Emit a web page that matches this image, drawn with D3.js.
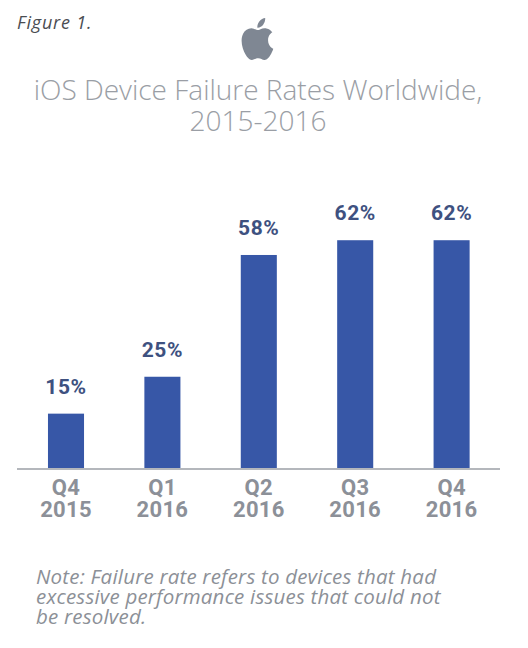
<!DOCTYPE html>
<html>
<head>
<meta charset="utf-8">
<script src="https://cdn.jsdelivr.net/npm/d3@7"></script>
<style>
html,body{margin:0;padding:0;background:#fff;}
svg{display:block;}
</style>
</head>
<body>
<svg id="chart" width="528" height="648"></svg>
<script>
const quarters = ["Q4", "Q1", "Q2", "Q3", "Q4"];
const years = ["2015", "2016", "2016", "2016", "2016"];
const failureRates = [15, 25, 58, 62, 62];
const titleLines = ["iOS Device Failure Rates Worldwide,", "2015-2016"];
const noteLines = ["Note: Failure rate refers to devices that had", "excessive performance issues that could not", "be resolved."];

const svg = d3.select("#chart");
const W = 528, H = 648;
svg.append("rect").attr("width", W).attr("height", H).attr("fill", "#fff");

const keys = failureRates.map((d, i) => i);
const x = d3.scaleBand().domain(keys).range([17.8, 499.8]).paddingInner(0.626).paddingOuter(0.313);
const y = d3.scaleLinear().domain([0, 100]).range([469, 100]);

// Figure label
svg.append("text").attr("x", 17).attr("y", 29)
  .attr("font-family", "Open Sans").attr("font-style", "italic")
  .attr("font-size", 18).attr("letter-spacing", 0.8).attr("fill", "#4a4d52").text("Figure 1.");

// Apple logo
svg.append("path")
  .attr("d", "M12.152 6.896c-.948 0-2.415-1.078-3.96-1.04-2.04.027-3.91 1.183-4.961 3.014-2.117 3.675-.546 9.103 1.519 12.09 1.013 1.454 2.208 3.09 3.792 3.039 1.52-.065 2.09-.987 3.935-.987 1.831 0 2.35.987 3.96.948 1.637-.026 2.676-1.48 3.676-2.948 1.156-1.688 1.636-3.325 1.662-3.415-.039-.013-3.182-1.221-3.22-4.857-.026-3.04 2.48-4.494 2.597-4.559-1.429-2.09-3.623-2.324-4.39-2.376-2-.156-3.675 1.09-4.61 1.09zM15.53 3.83c.843-1.012 1.4-2.427 1.245-3.83-1.207.052-2.662.805-3.532 1.818-.78.896-1.454 2.338-1.273 3.714 1.338.104 2.715-.688 3.559-1.701")
  .attr("transform", "translate(238,18) scale(1.62,1.75)")
  .attr("fill", "#7f8793");

// Title
svg.append("g").selectAll("text").data(titleLines).join("text")
  .attr("x", 258).attr("y", (d, i) => 100 + i * 31)
  .attr("text-anchor", "middle")
  .attr("font-family", "Open Sans").attr("font-weight", 300)
  .attr("font-size", 28).attr("fill", "#9a9ea5")
  .text(d => d);

// Bars
svg.append("g").selectAll("rect").data(failureRates).join("rect")
  .attr("x", (d, i) => x(i)).attr("width", x.bandwidth())
  .attr("y", d => y(d)).attr("height", d => y(0) - y(d))
  .attr("fill", "#3757a7");

// Value labels
svg.append("g").selectAll("text").data(failureRates).join("text")
  .attr("x", (d, i) => x(i) + x.bandwidth() / 2)
  .attr("y", d => y(d) - 20)
  .attr("text-anchor", "middle")
  .attr("font-family", "Roboto").attr("font-weight", 700)
  .attr("font-size", 21).attr("letter-spacing", 0.6).attr("fill", "#3e5180")
  .text(d => d + "%");

// Axis
const xAxis = d3.axisBottom(x).tickSize(0).tickFormat(() => "");
const axisG = svg.append("g").attr("transform", `translate(0,${y(0)})`).call(xAxis);
axisG.select(".domain").attr("stroke", "#b4b7bc").attr("stroke-width", 2)
  .attr("d", `M17,0H500`);
axisG.selectAll(".tick text").remove();
axisG.selectAll(".tick").each(function(d) {
  const t = d3.select(this).append("text")
    .attr("text-anchor", "middle")
    .attr("font-family", "Roboto").attr("font-weight", 700)
    .attr("font-size", 22).attr("letter-spacing", 0.3).attr("fill", "#8c9098");
  t.append("tspan").attr("x", 0).attr("y", 26).text(quarters[d]);
  t.append("tspan").attr("x", 0).attr("y", 48).text(years[d]);
});

// Note
svg.append("g").selectAll("text").data(noteLines).join("text")
  .attr("x", 36).attr("y", (d, i) => 584 + i * 20)
  .attr("font-family", "Open Sans").attr("font-style", "italic")
  .attr("font-size", 20.5).attr("letter-spacing", 0.2).attr("fill", "#8c9097")
  .text(d => d);
</script>
</body>
</html>
